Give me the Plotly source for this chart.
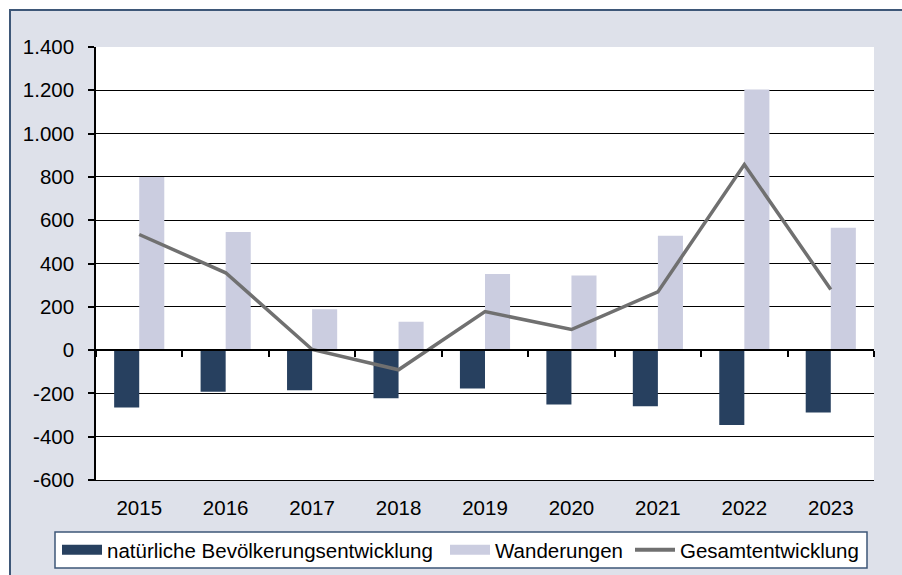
import plotly.graph_objects as go

years = ["2015", "2016", "2017", "2018", "2019", "2020", "2021", "2022", "2023"]
natuerlich = [-265, -192, -185, -222, -177, -251, -259, -346, -288]
wanderungen = [800, 545, 189, 131, 351, 345, 528, 1204, 565]
gesamt = [534, 357, 3, -91, 178, 95, 269, 857, 280]
y_ticks = [-600, -400, -200, 0, 200, 400, 600, 800, 1000, 1200, 1400]
y_labels = ["-600", "-400", "-200", "0", "200", "400", "600", "800", "1.000", "1.200", "1.400"]
names = ["natürliche Bevölkerungsentwicklung", "Wanderungen", "Gesamtentwicklung"]

DARK = "#27405F"
LIGHT = "#CBCDE0"
LINE = "#707070"
FRAME_BG = "#DEE1EA"
FRAME_LINE = "#3E5778"
FONT = "Liberation Sans, Arial, sans-serif"
FS = 20.5

W, H = 902, 575
L, R, T, B = 96, 28, 47, 95
pw, ph = W - L - R, H - T - B

def px_x(p):
    return (p - L) / pw

def px_y(p):
    return (H - B - p) / ph

fig = go.Figure()
fig.add_trace(go.Bar(x=years, y=natuerlich, name=names[0], legendgroup="a", showlegend=False,
                     marker=dict(color=DARK, line=dict(width=0))))
fig.add_trace(go.Bar(x=years, y=wanderungen, name=names[1], legendgroup="b", showlegend=False,
                     marker=dict(color=LIGHT, line=dict(width=0))))
fig.add_trace(go.Scatter(x=years, y=gesamt, name=names[2], mode="lines", showlegend=False,
                         legendgroup="c", xaxis="x2", line=dict(color=LINE, width=3.5)))
# legend entries (wide swatches like the original)
fig.add_trace(go.Scatter(x=[None], y=[None], name=names[0], legendgroup="a", mode="lines",
                         legend="legend", line=dict(color=DARK, width=12), hoverinfo="skip"))
fig.add_trace(go.Scatter(x=[None], y=[None], name=names[1], legendgroup="b", mode="lines",
                         legend="legend2", line=dict(color=LIGHT, width=12), hoverinfo="skip"))
fig.add_trace(go.Scatter(x=[None], y=[None], name=names[2], legendgroup="c", mode="lines",
                         legend="legend3", line=dict(color=LINE, width=4), hoverinfo="skip"))

leg_common = dict(orientation="h", xanchor="left", yanchor="middle", y=px_y(550),
                  bgcolor="rgba(0,0,0,0)", borderwidth=0,
                  font=dict(family=FONT, size=FS, color="black"), itemwidth=40)

fig.update_layout(
    width=W, height=H,
    margin=dict(l=L, r=R, t=T, b=B, autoexpand=False),
    paper_bgcolor="white", plot_bgcolor="white",
    font=dict(family=FONT, size=FS, color="black"),
    barmode="group", bargap=0.42, bargroupgap=0,
    showlegend=True,
    legend=dict(x=px_x(57), **leg_common),
    legend2=dict(x=px_x(445), **leg_common),
    legend3=dict(x=px_x(630), **leg_common),
    xaxis=dict(type="category", categoryorder="array", categoryarray=years,
               showgrid=False, showline=True, linecolor="black", linewidth=1.3, zeroline=False,
               ticks="", ticklabelstandoff=9, range=[-0.5, 8.5]),
    xaxis2=dict(type="category", categoryorder="array", categoryarray=years,
                overlaying="x", matches="x", anchor="free", position=600 / 2000,
                showline=True, linecolor="black", linewidth=1.5,
                ticks="outside", tickson="boundaries", ticklen=6, tickwidth=1.5, tickcolor="black",
                showticklabels=False, showgrid=False, zeroline=False),
    yaxis=dict(range=[-600, 1400], tickvals=y_ticks, ticktext=y_labels,
               showgrid=True, gridcolor="black", gridwidth=1.3,
               showline=True, linecolor="black", linewidth=1.5,
               ticks="outside", ticklen=6, tickwidth=1.5, tickcolor="black",
               ticklabelstandoff=10, zeroline=False),
    shapes=[
        dict(type="rect", xref="paper", yref="paper", layer="below",
             x0=px_x(10), x1=px_x(W + 20), y0=px_y(H + 20), y1=px_y(10),
             fillcolor=FRAME_BG, line=dict(color=FRAME_LINE, width=2)),
        dict(type="rect", xref="paper", yref="paper", layer="below",
             x0=0, x1=1, y0=0, y1=1, fillcolor="white", line=dict(width=0)),
        dict(type="rect", xref="paper", yref="paper", layer="below",
             x0=px_x(55), x1=px_x(867), y0=px_y(568), y1=px_y(532),
             fillcolor="white", line=dict(color=FRAME_LINE, width=1.5)),
    ],
)

fig.write_html("out.html", config={"displayModeBar": False},
               post_script="document.body.style.margin='0';")
